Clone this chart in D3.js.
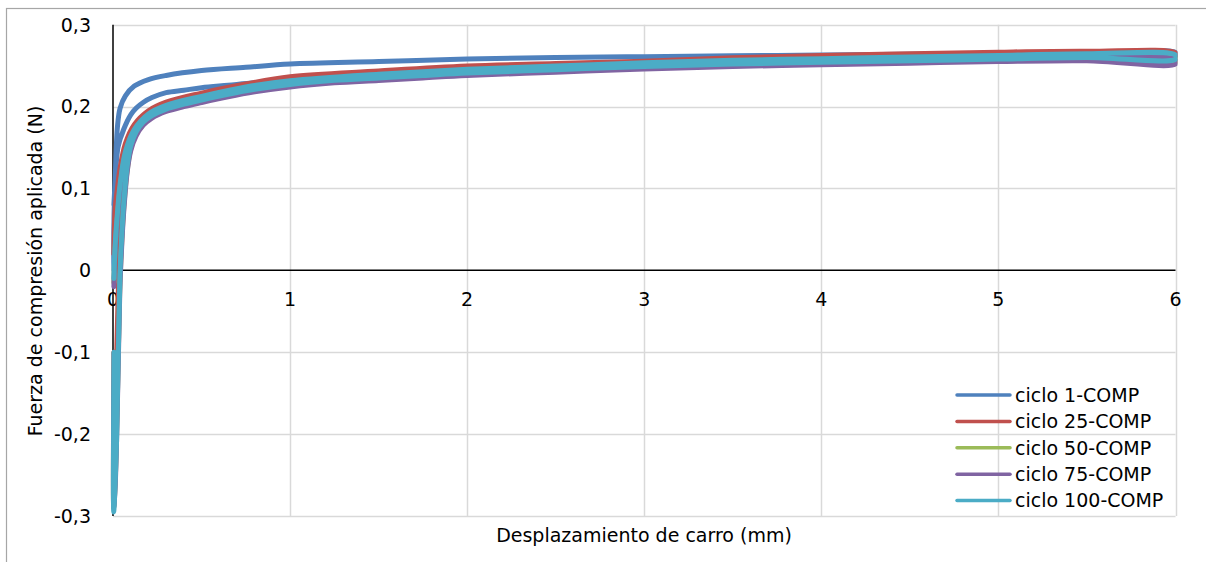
<!DOCTYPE html>
<html>
<head>
<meta charset="utf-8">
<script src="https://cdn.jsdelivr.net/npm/d3@7"></script>
<style>
  body { margin: 0; background: #fff; }
  svg { display: block; font-family: "DejaVu Sans", Verdana, sans-serif; }
  .tick-label { font-size: 19px; fill: #000; }
  .axis-title { font-size: 19px; fill: #000; }
  .legend-label { font-size: 19px; fill: #000; }
</style>
</head>
<body>
<svg id="chart"></svg>
<script>
// Displacement (mm) along each loop: spike, loading branch, return branch
const DISP_SPIKE = [0.006, 0.004, 0.012, 0.02, 0.028, 0.035];
const DISP_OUT = [0.04, 0.05, 0.06, 0.08, 0.1, 0.13, 0.17, 0.22, 0.3, 0.4, 0.5, 0.65, 0.8, 1, 1.25, 1.5, 1.75, 2, 2.5, 3, 3.5, 4, 4.5, 5, 5.5, 6];
const DISP_BACK = [6, 5.5, 5, 4.5, 4, 3.5, 3, 2.5, 2, 1.5, 1, 0.75, 0.5, 0.3, 0.2, 0.12, 0.07, 0.04, 0.025, 0.012, 0.005];

// Force (N) per cycle, same order as the displacement arrays
const FORCE_C1 = [
  0.0, 0.02, 0.11, 0.135, 0.15, 0.156,
  0.16, 0.166, 0.172, 0.182, 0.19, 0.198, 0.205, 0.211, 0.217, 0.22, 0.223, 0.226, 0.229, 0.232, 0.235, 0.238, 0.241, 0.243, 0.247, 0.25, 0.253, 0.256, 0.258, 0.26, 0.262, 0.262,
  0.266, 0.265, 0.264, 0.264, 0.263, 0.262, 0.261, 0.26, 0.258, 0.255, 0.252, 0.248, 0.244, 0.238, 0.233, 0.225, 0.213, 0.198, 0.175, 0.11, 0.08,
];
const FORCE_C25 = [
  -0.1, -0.285, -0.2, -0.11, -0.04, 0.01,
  0.04, 0.08, 0.108, 0.14, 0.16, 0.175, 0.186, 0.194, 0.201, 0.207, 0.212, 0.219, 0.225, 0.232, 0.236, 0.239, 0.242, 0.245, 0.248, 0.251, 0.255, 0.258, 0.26, 0.262, 0.263, 0.261,
  0.2655, 0.2675, 0.2665, 0.2645, 0.2625, 0.2595, 0.2555, 0.2525, 0.2495, 0.2435, 0.2365, 0.2275, 0.2165, 0.2055, 0.195, 0.178, 0.155, 0.125, 0.1, 0.075, 0.02,
];
const FORCE_C50 = [
  -0.1, -0.29, -0.26, -0.2, -0.12, -0.05,
  -0.01, 0.038, 0.074, 0.122, 0.148, 0.166, 0.178, 0.187, 0.195, 0.201, 0.206, 0.213, 0.219, 0.225, 0.23, 0.233, 0.236, 0.239, 0.243, 0.247, 0.25, 0.252, 0.254, 0.256, 0.257, 0.254,
  0.259, 0.2615, 0.2605, 0.2585, 0.2565, 0.2545, 0.2515, 0.2475, 0.2435, 0.2375, 0.2295, 0.2215, 0.2105, 0.1995, 0.1895, 0.168, 0.142, 0.1, 0.065, 0.025, -0.015,
];
const FORCE_C75 = [
  -0.1, -0.29, -0.265, -0.21, -0.13, -0.06,
  -0.015, 0.033, 0.07, 0.12, 0.146, 0.164, 0.177, 0.186, 0.194, 0.2, 0.205, 0.212, 0.218, 0.224, 0.229, 0.232, 0.235, 0.238, 0.242, 0.246, 0.249, 0.251, 0.253, 0.255, 0.256, 0.252,
  0.257, 0.2605, 0.2595, 0.2575, 0.2555, 0.2535, 0.2505, 0.2465, 0.2425, 0.2365, 0.2285, 0.2205, 0.2095, 0.1985, 0.188, 0.166, 0.14, 0.098, 0.062, 0.022, -0.02,
];
const FORCE_C100 = [
  -0.1, -0.295, -0.26, -0.21, -0.12, -0.05,
  0.0, 0.045, 0.08, 0.127, 0.152, 0.169, 0.181, 0.189, 0.197, 0.203, 0.208, 0.215, 0.221, 0.227, 0.232, 0.235, 0.238, 0.241, 0.245, 0.249, 0.252, 0.254, 0.256, 0.258, 0.26, 0.258,
  0.263, 0.2645, 0.2625, 0.2605, 0.2585, 0.2565, 0.2535, 0.2495, 0.2455, 0.2395, 0.2315, 0.224, 0.2125, 0.2015, 0.191, 0.172, 0.145, 0.105, 0.07, 0.03, -0.01,
];

const SERIES_NAMES = ["ciclo 1-COMP", "ciclo 25-COMP", "ciclo 50-COMP", "ciclo 75-COMP", "ciclo 100-COMP"];
const SERIES_FORCES = [FORCE_C1, FORCE_C25, FORCE_C50, FORCE_C75, FORCE_C100];
const SERIES_COLORS = ["#4F81BD", "#C0504D", "#9BBB59", "#8064A2", "#4BACC6"];

const X_TICKS = [0, 1, 2, 3, 4, 5, 6];
const Y_TICKS = [-0.3, -0.2, -0.1, 0, 0.1, 0.2, 0.3];

// SVG size and plot box
const svgWidth = 1206;
const svgHeight = 562;
const plot = { left: 113, right: 1175.5, top: 24.7, bottom: 516 };

const svg = d3.select("#chart").attr("width", svgWidth).attr("height", svgHeight);

// Clip series to the plot area, like the spreadsheet does
svg.append("clipPath")
  .attr("id", "plot-clip")
  .append("rect")
  .attr("x", plot.left - 3).attr("y", plot.top - 3)
  .attr("width", plot.right - plot.left + 5).attr("height", plot.bottom - plot.top + 6);

// Outer chart border
svg.append("rect")
  .attr("x", 6.5).attr("y", 8.5)
  .attr("width", 1220).attr("height", 600)
  .attr("fill", "none").attr("stroke", "#a6a6a6").attr("stroke-width", 1.2);

const x = d3.scaleLinear().domain([0, 6]).range([plot.left, plot.right]);
const y = d3.scaleLinear().domain([-0.3, 0.3]).range([plot.bottom, plot.top]);

const fmt = (v) => (Math.abs(v) < 1e-9 ? "0" : d3.format(".1f")(v).replace(".", ",").replace("−", "-"));

// Gridlines
svg.append("g")
  .selectAll("line")
  .data(Y_TICKS.filter((d) => d !== 0))
  .join("line")
  .attr("x1", plot.left).attr("x2", plot.right)
  .attr("y1", (d) => Math.round(y(d)) + 0.5).attr("y2", (d) => Math.round(y(d)) + 0.5)
  .attr("stroke", "#d9d9d9").attr("stroke-width", 1.5);

svg.append("g")
  .selectAll("line")
  .data(X_TICKS.filter((d) => d !== 0))
  .join("line")
  .attr("x1", (d) => Math.round(x(d)) + 0.5).attr("x2", (d) => Math.round(x(d)) + 0.5)
  .attr("y1", plot.top).attr("y2", plot.bottom)
  .attr("stroke", "#d9d9d9").attr("stroke-width", 1.5);

// Axis lines through zero
svg.append("line")
  .attr("x1", plot.left).attr("x2", plot.right)
  .attr("y1", y(0)).attr("y2", y(0))
  .attr("stroke", "#000").attr("stroke-width", 1.5);

svg.append("line")
  .attr("x1", x(0)).attr("x2", x(0))
  .attr("y1", plot.top).attr("y2", plot.bottom)
  .attr("stroke", "#000").attr("stroke-width", 1.5);

// Tick labels
svg.append("g")
  .selectAll("text")
  .data(Y_TICKS)
  .join("text")
  .attr("class", "tick-label")
  .attr("x", 91)
  .attr("y", (d) => y(d))
  .attr("dy", "0.36em")
  .attr("text-anchor", "end")
  .text((d) => fmt(d));

svg.append("g")
  .selectAll("text")
  .data(X_TICKS)
  .join("text")
  .attr("class", "tick-label")
  .attr("x", (d) => x(d))
  .attr("y", 306)
  .attr("text-anchor", "middle")
  .text((d) => d);

// Axis titles
svg.append("text")
  .attr("class", "axis-title")
  .attr("x", 644).attr("y", 542)
  .attr("text-anchor", "middle")
  .text("Desplazamiento de carro (mm)");

svg.append("text")
  .attr("class", "axis-title")
  .attr("transform", "translate(42,271) rotate(-90)")
  .attr("text-anchor", "middle")
  .text("Fuerza de compresión aplicada (N)");

// Series lines
const disp = DISP_SPIKE.concat(DISP_OUT, DISP_BACK);
const line = d3.line()
  .x((d) => x(d[0]))
  .y((d) => y(d[1]))
  .curve(d3.curveCatmullRom.alpha(0.5));

svg.append("g")
  .attr("clip-path", "url(#plot-clip)")
  .selectAll("path")
  .data(SERIES_FORCES)
  .join("path")
  .attr("d", (f) => line(disp.map((v, i) => [v, f[i]])))
  .attr("fill", "none")
  .attr("stroke", (f, i) => SERIES_COLORS[i])
  .attr("stroke-width", 5)
  .attr("stroke-linejoin", "round")
  .attr("stroke-linecap", "round");

// Legend
const legend = svg.append("g")
  .selectAll("g")
  .data(SERIES_NAMES)
  .join("g")
  .attr("transform", (d, i) => `translate(957,${395 + i * 26.4})`);

legend.append("line")
  .attr("x1", 0).attr("x2", 53)
  .attr("stroke", (d, i) => SERIES_COLORS[i])
  .attr("stroke-width", 3.5)
  .attr("stroke-linecap", "round");

legend.append("text")
  .attr("class", "legend-label")
  .attr("x", 58)
  .attr("dy", "0.36em")
  .text((d) => d);
</script>
</body>
</html>
